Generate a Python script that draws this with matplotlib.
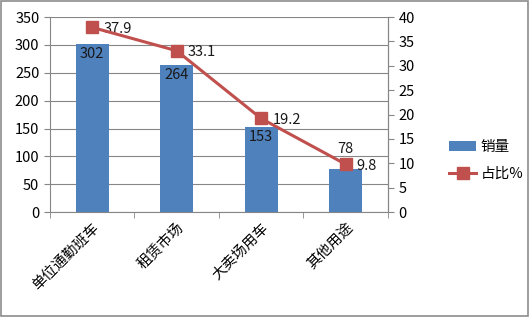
import numpy as np
import matplotlib.pyplot as plt
from matplotlib.patches import Rectangle

plt.rcParams['font.family'] = ['Noto Sans CJK SC', 'DejaVu Sans']

categories = ['单位通勤班车', '租赁市场', '大卖场用车', '其他用途']
sales = [302, 264, 153, 78]
share = [37.9, 33.1, 19.2, 9.8]

blue = '#4f81bd'
red = '#c0504d'
gray = '#868686'

fig = plt.figure(figsize=(5.3, 3.17), dpi=100)
fig.patches.append(Rectangle((0.002, 0.003), 0.995, 0.994, transform=fig.transFigure,
                             fill=False, edgecolor='#8c8c8c', linewidth=1.2))
ax = fig.add_axes([0.094, 0.331, 0.638, 0.615])
x = np.arange(len(categories))

bars = ax.bar(x, sales, width=0.39, color=blue, label='销量', zorder=2)
ax.set_xlim(-0.5, len(categories) - 0.5)
ax.set_ylim(0, 350)
ax.set_yticks(range(0, 351, 50))
ax.yaxis.grid(True, color=gray, linewidth=0.8, zorder=0)
ax.set_axisbelow(True)

ax.set_xticks(x)
ax.set_xticklabels(categories, rotation=45, ha='right', rotation_mode='anchor', fontsize=10.5)
ax.set_xticks(np.arange(-0.5, len(categories), 1), minor=True)
ax.tick_params(axis='x', which='major', length=0, pad=6)
ax.tick_params(axis='x', which='minor', length=4, color=gray)
ax.tick_params(axis='y', length=4, color=gray, labelsize=10.5, direction='out')
ax.spines['top'].set_visible(False)
for s in ['left', 'bottom', 'right']:
    ax.spines[s].set_color(gray)

ax2 = ax.twinx()
line, = ax2.plot(x, share, color=red, linewidth=2.2, marker='s', markersize=8, label='占比%', zorder=4)
ax2.set_ylim(0, 40)
ax2.set_yticks(range(0, 41, 5))
ax2.tick_params(axis='y', length=4, color=gray, labelsize=10.5)
ax2.spines['top'].set_visible(False)
ax2.spines['right'].set_color(gray)
ax2.spines['left'].set_visible(False)
ax2.spines['bottom'].set_visible(False)
for xi, v in zip(x, share):
    ax2.annotate(f'{v}', (xi, v), xytext=(8, -1), textcoords='offset points',
                 ha='left', va='center', fontsize=10.5, color='#1a1a1a')

# bar value labels drawn on the top axes so they stay above the line
for xi, v in zip(x, sales):
    if v < 100:
        ax2.annotate(str(v), (xi, v * 40 / 350), xytext=(0, 9), textcoords='offset points',
                     ha='center', va='bottom', fontsize=10.5, color='#1a1a1a', zorder=5)
    else:
        ax2.annotate(str(v), (xi, v * 40 / 350), xytext=(0, -2), textcoords='offset points',
                     ha='center', va='top', fontsize=10.5, color='#1a1a1a', zorder=5)

fig.legend([bars, line], ['销量', '占比%'], loc='upper left', bbox_to_anchor=(0.822, 0.6),
           frameon=False, fontsize=10.5, handlelength=1.9, handletextpad=0.3, labelspacing=0.9)

fig.savefig('out.png', dpi=100)
